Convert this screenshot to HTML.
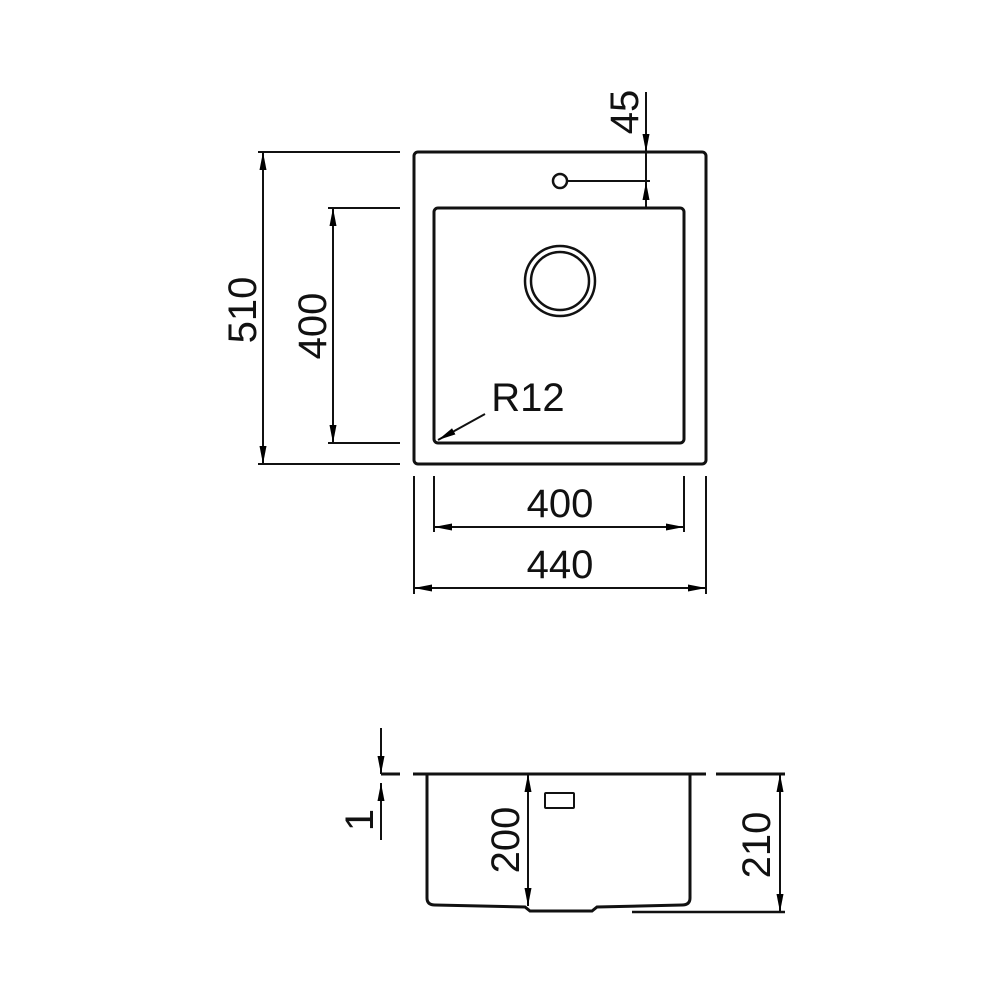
<!DOCTYPE html>
<html><head><style>body{margin:0;background:#fff}svg{display:block}</style></head><body>
<svg width="1000" height="1000" viewBox="0 0 1000 1000" xmlns="http://www.w3.org/2000/svg">
<defs>
<marker id="a" viewBox="0 0 18 8" refX="18" refY="4" markerWidth="18" markerHeight="8" markerUnits="userSpaceOnUse" orient="auto-start-reverse"><path d="M0,0.5 L18,4 L0,7.5 z" fill="#000"/></marker>
</defs>
<g fill="none" stroke="#111" stroke-width="3">
<rect x="414" y="152" width="292" height="312" rx="4"/>
<rect x="434" y="208" width="250" height="235" rx="4"/>
<circle cx="560" cy="281" r="35" stroke-width="2.5"/>
<circle cx="560" cy="281" r="29" stroke-width="2.5"/>
<circle cx="560" cy="181" r="7" stroke-width="2.5"/>
</g>
<g fill="none" stroke="#111" stroke-width="2">
<line x1="567" y1="181" x2="650" y2="181"/>
<line x1="646" y1="92" x2="646" y2="152" marker-end="url(#a)"/>
<line x1="646" y1="152" x2="646" y2="208"/>
<line x1="646" y1="208" x2="646" y2="182" marker-end="url(#a)"/>
<line x1="258" y1="152" x2="400" y2="152"/>
<line x1="258" y1="464" x2="400" y2="464"/>
<line x1="263" y1="152" x2="263" y2="464" marker-start="url(#a)" marker-end="url(#a)"/>
<line x1="328" y1="208" x2="400" y2="208"/>
<line x1="328" y1="443" x2="400" y2="443"/>
<line x1="333" y1="208" x2="333" y2="443" marker-start="url(#a)" marker-end="url(#a)"/>
<line x1="485" y1="414" x2="438" y2="440" marker-end="url(#a)"/>
<line x1="434" y1="476" x2="434" y2="532"/>
<line x1="684" y1="476" x2="684" y2="532"/>
<line x1="434" y1="527" x2="684" y2="527" marker-start="url(#a)" marker-end="url(#a)"/>
<line x1="414" y1="476" x2="414" y2="594"/>
<line x1="706" y1="476" x2="706" y2="594"/>
<line x1="414" y1="588" x2="706" y2="588" marker-start="url(#a)" marker-end="url(#a)"/>
<line x1="413" y1="774" x2="706" y2="774" stroke-width="3"/>
<line x1="716" y1="774" x2="785" y2="774" stroke-width="3"/>
<path d="M427,774 L427,898 Q427,905 435,905 L525,907 L530,911 L592,911 L597,907 L682,905 Q690,905 690,898 L690,774" stroke-width="3"/>
<line x1="632" y1="912" x2="785" y2="912" stroke-width="2.5"/>
<rect x="545" y="793" width="29" height="15" rx="1"/>
<line x1="528" y1="774" x2="528" y2="906" marker-start="url(#a)" marker-end="url(#a)"/>
<line x1="780" y1="774" x2="780" y2="912" marker-start="url(#a)" marker-end="url(#a)"/>
<line x1="381" y1="728" x2="381" y2="774" marker-end="url(#a)"/>
<line x1="381" y1="840" x2="381" y2="783" marker-end="url(#a)"/>
<line x1="381" y1="774" x2="400" y2="774" stroke-width="3"/>
</g>
<g font-family="Liberation Sans, sans-serif" font-size="40" fill="#111" text-anchor="middle">
<text transform="translate(638,112) rotate(-90)">45</text>
<text transform="translate(256,310) rotate(-90)">510</text>
<text transform="translate(326,326) rotate(-90)">400</text>
<text x="528" y="411">R12</text>
<text x="560" y="517">400</text>
<text x="560" y="578">440</text>
<text transform="translate(519,840) rotate(-90)">200</text>
<text transform="translate(770,845) rotate(-90)">210</text>
<text transform="translate(373,820) rotate(-90)">1</text>
</g>
</svg>
</body></html>
